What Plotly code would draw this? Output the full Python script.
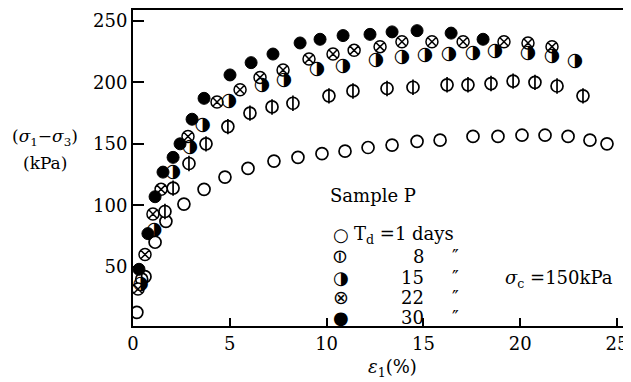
import plotly.graph_objects as go

# ---- data (strain %, deviator stress kPa) ----
strain_1d = [0.2, 0.62, 1.14, 1.7, 2.63, 3.67, 4.75, 5.94, 7.28, 8.52, 9.76, 10.95, 12.14,
             13.38, 14.67, 15.86, 17.56, 18.85, 20.09, 21.28, 22.47, 23.6, 24.48]
stress_1d = [13, 42, 70, 87, 101, 113, 123, 130, 136, 139, 142, 144, 147,
             149, 152, 153, 156, 156, 157, 157, 156, 153, 150]

strain_8d = [0.45, 1.65, 2.07, 2.89, 3.77, 4.9, 6.04, 7.18, 8.26, 10.12, 11.36, 13.12, 14.46,
             16.22, 17.3, 18.49, 19.63, 20.76, 21.9, 23.24]
stress_8d = [40, 95, 114, 134, 150, 164, 175, 180, 183, 189, 193, 195, 196,
             198, 198, 199, 201, 200, 197, 189]

strain_15d = [0.4, 1.1, 2.07, 2.94, 3.6, 4.96, 6.66, 7.8, 9.5, 10.85, 12.55, 13.89, 15.08,
              16.32, 17.56, 18.7, 20.4, 21.64, 22.83]
stress_15d = [36, 80, 127, 147, 165, 185, 198, 202, 211, 213, 218, 220, 222,
              223, 224, 225, 224, 221, 217]

strain_22d = [0.26, 0.62, 1.03, 1.45, 2.84, 4.34, 5.53, 6.56, 7.75, 9.09, 10.33, 11.42, 12.76,
              13.89, 15.44, 17.05, 19.16, 20.4, 21.64]
stress_22d = [32, 60, 93, 113, 156, 184, 194, 204, 210, 219, 223, 226, 229,
              233, 233, 233, 233, 232, 229]

strain_30d = [0.31, 0.77, 1.14, 1.55, 2.07, 2.43, 3.05, 3.67, 5.01, 6.1, 7.23, 8.63, 9.66,
              10.85, 12.24, 13.38, 14.67, 16.43, 18.08]
stress_30d = [48, 77, 107, 127, 139, 150, 170, 187, 206, 216, 223, 232, 235,
              238, 239, 241, 242, 240, 235]

x_ticks = [0, 5, 10, 15, 20, 25]
y_ticks = [50, 100, 150, 200, 250]

legend_days = ["1", "8", "15", "22", "30"]
legend_glyphs = ["○", "⊖", "◑", "⊗", "●"]

SERIF = "DejaVu Serif"
SYM = "DejaVu Sans"
MS = 12

fig = go.Figure()

# 1 day: open circle
fig.add_trace(go.Scatter(x=strain_1d, y=stress_1d, mode="markers",
                         marker=dict(symbol="circle", size=MS, color="white",
                                     line=dict(color="black", width=1.7))))
# 8 days: circle with vertical bar
fig.add_trace(go.Scatter(x=strain_8d, y=stress_8d, mode="markers",
                         marker=dict(symbol="circle", size=MS, color="white",
                                     line=dict(color="black", width=1.7))))
fig.add_trace(go.Scatter(x=strain_8d, y=stress_8d, mode="markers",
                         marker=dict(symbol="line-ns", size=MS - 1,
                                     line=dict(color="black", width=1.7))))
# 22 days: circle with x
fig.add_trace(go.Scatter(x=strain_22d, y=stress_22d, mode="markers",
                         marker=dict(symbol="circle-x", size=MS, color="white",
                                     line=dict(color="black", width=1.5))))
# 15 days: half-filled circle (glyph)
fig.add_trace(go.Scatter(x=strain_15d, y=stress_15d, mode="text", text=["◑"] * len(strain_15d),
                         textposition="middle center",
                         textfont=dict(family=SYM, size=19, color="black")))
# 30 days: filled circle
fig.add_trace(go.Scatter(x=strain_30d, y=stress_30d, mode="markers",
                         marker=dict(symbol="circle", size=MS, color="black",
                                     line=dict(color="black", width=1))))

ann = []
# legend
row_y = [75.9, 58, 41.7, 25.4, 9.2]
for i, (g, d) in enumerate(zip(legend_glyphs, legend_days)):
    ann.append(dict(x=10.75, y=row_y[i], xref="x", yref="y", xanchor="center", yanchor="middle",
                    text=g, showarrow=False,
                    font=dict(family=SYM, size=19 if g in ("⊖", "⊗") else 18, color="black"),
                    textangle=90 if g == "⊖" else 0))
    if i == 0:
        ann.append(dict(x=11.31, y=row_y[i], xref="x", yref="y", xanchor="left", yanchor="middle",
                        text="T<sub>d</sub> =1 days", showarrow=False,
                        font=dict(family=SERIF, size=18, color="black")))
    else:
        ann.append(dict(x=15.13, y=row_y[i], xref="x", yref="y", xanchor="right", yanchor="middle",
                        text=d, showarrow=False,
                        font=dict(family=SERIF, size=18, color="black")))
        ann.append(dict(x=16.63, y=row_y[i], xref="x", yref="y", xanchor="center", yanchor="middle",
                        text="″", showarrow=False,
                        font=dict(family=SERIF, size=18, color="black")))

ann.append(dict(x=12.37, y=108, xref="x", yref="y", xanchor="center", yanchor="middle",
                text="Sample P", showarrow=False,
                font=dict(family=SERIF, size=18, color="black")))
ann.append(dict(x=19.1, y=40, xref="x", yref="y", xanchor="left", yanchor="middle",
                text="<i>σ</i><sub>c</sub> =150kPa", showarrow=False,
                font=dict(family=SERIF, size=18, color="black")))
ann.append(dict(x=0.522, y=-0.133, xref="paper", yref="paper", xanchor="center", yanchor="middle",
                text="<i>ε</i><sub>1</sub>(%)", showarrow=False,
                font=dict(family=SERIF, size=18, color="black")))
ann.append(dict(x=-0.177, y=0.598, xref="paper", yref="paper", xanchor="center", yanchor="middle",
                text="(<i>σ</i><sub>1</sub>−<i>σ</i><sub>3</sub>)", showarrow=False,
                font=dict(family=SERIF, size=17, color="black")))
ann.append(dict(x=-0.177, y=0.516, xref="paper", yref="paper", xanchor="center", yanchor="middle",
                text="(kPa)", showarrow=False,
                font=dict(family=SERIF, size=17, color="black")))

# the page body has an 8px margin, so the figure is 8px smaller and margins are offset
fig.update_layout(
    width=623, height=374,
    margin=dict(l=125, r=0, t=2, b=56),
    paper_bgcolor="white", plot_bgcolor="white",
    showlegend=False,
    annotations=ann,
    font=dict(family=SERIF, size=18, color="black"),
)
fig.update_xaxes(range=[0, 25.72], tickvals=x_ticks, ticktext=[str(v) for v in x_ticks],
                 ticks="inside", ticklen=8, tickwidth=1.5, tickcolor="black",
                 showline=True, linewidth=2, linecolor="black", mirror=True,
                 showgrid=False, zeroline=False, automargin=False,
                 tickfont=dict(family=SERIF, size=18, color="black"))
fig.update_yaxes(range=[1.9, 258.8], tickvals=y_ticks, ticktext=[str(v) for v in y_ticks],
                 ticks="inside", ticklen=11, tickwidth=1.5, tickcolor="black",
                 showline=True, linewidth=2, linecolor="black",
                 showgrid=False, zeroline=False, automargin=False,
                 tickfont=dict(family=SERIF, size=18, color="black"))

fig.write_html("out.html")
